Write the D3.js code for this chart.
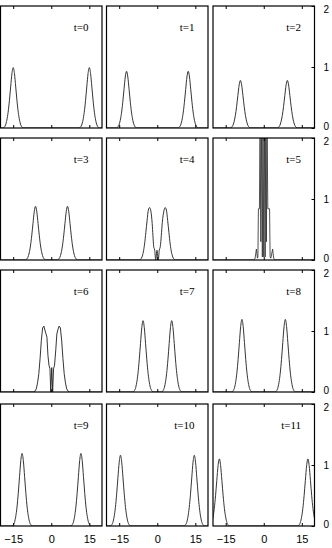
<!DOCTYPE html>
<html><head><meta charset="utf-8">
<script src="https://cdn.jsdelivr.net/npm/d3@7"></script>
<style>html,body{margin:0;padding:0;background:#fff;}svg{display:block;}</style>
</head><body>
<script>
// ---- data ----
const times = [0,1,2,3,4,5,6,7,8,9,10,11];
const xTicks = [-15, 0, 15];
const yTicks = [0, 1, 2];
// soliton centres and heights (null -> explicit curve below)
const leftCentre  = [-15.0, -12.1, -9.2, -6.2, null, null, null, -5.6, -8.6, -11.5, -14.5, -17.5];
const rightCentre = [ 15.0,  12.2,  9.3,  6.4, null, null, null,  5.7,  8.5,  11.7,  14.6,  17.4];
const peakHeight  = [ 0.99,  0.93, 0.78, 0.88, null, null, null, 1.17, 1.19,  1.19,  1.16,  1.10];
// single-peak profile read from t=0 (offset from centre, relative height)
const profileOffset = [-4, -3.5, -3, -2.5, -2, -1.5, -1, -0.5, 0, 0.5, 1, 1.5, 2, 2.5, 3, 3.5, 4];
const profileHeight = [0, 0.015, 0.05, 0.13, 0.26, 0.45, 0.68, 0.9, 1, 0.9, 0.68, 0.45, 0.26, 0.13, 0.05, 0.015, 0];
// interaction panels, read point by point
const curveT4 = [[-20,0],[-7,0],[-6.5,0.015],[-6,0.05],[-5.5,0.13],[-5,0.26],[-4.5,0.45],[-4,0.65],[-3.5,0.82],[-3,0.86],[-2.5,0.8],[-2,0.6],[-1.7,0.4],[-1.4,0.22],[-1.0,0.16],[-0.6,0.0],[-0.1,0.16],[0.4,0.0],[0.8,0.16],[1.2,0.22],[1.6,0.4],[2.0,0.62],[2.6,0.8],[3.1,0.86],[3.6,0.82],[4.1,0.65],[4.6,0.45],[5.1,0.26],[5.6,0.13],[6.1,0.05],[6.6,0.015],[7.1,0],[20,0]];
const curveT5 = [[-20,0],[-3.9,0],[-3.4,0.03],[-2.9,0.18],[-2.5,0.03],[-2.3,0.05],[-2.1,0.84],[-1.7,0.84],[-1.45,2.3],[-1.15,0.3],[-0.85,2.3],[-0.55,0.05],[-0.3,2.3],[0.0,0.05],[0.3,2.3],[0.55,0.05],[0.8,2.3],[1.05,0.3],[1.3,2.3],[1.6,0.84],[2.3,0.84],[2.5,0.05],[2.8,0.03],[3.5,0.18],[3.9,0.03],[4.5,0],[20,0]];
const curveT6 = [[-20,0],[-6.9,0],[-6.4,0.015],[-5.9,0.05],[-5.4,0.15],[-4.9,0.3],[-4.4,0.55],[-3.9,0.85],[-3.4,1.05],[-2.9,1.08],[-2.4,1.0],[-1.7,0.9],[-1.3,0.6],[-0.9,0.44],[-0.5,0.38],[-0.2,0.0],[0.2,0.4],[0.55,0.0],[0.9,0.38],[1.3,0.44],[1.8,0.7],[2.2,0.95],[2.6,1.02],[3.1,1.08],[3.6,1.05],[4.1,0.85],[4.6,0.55],[5.1,0.3],[5.6,0.15],[6.1,0.05],[6.6,0.015],[7.1,0],[20,0]];
const explicitCurves = {4: curveT4, 5: curveT5, 6: curveT6};

// ---- layout ----
const W = 332, H = 548;
const colLeft = [0.5, 106.5, 213];
const rowTop = [6, 138, 270, 404];
const pw = 101.5, ph = 122;

const svg = d3.select("body").append("svg").attr("width", W).attr("height", H);
const x = d3.scaleLinear().domain([-20, 20]).range([0, pw]);
const y = d3.scaleLinear().domain([0, 2]).range([ph, 0]);

function peakPoints(c, h) {
  return profileOffset.map((o, i) => [c + o, h * profileHeight[i]]);
}
function curveFor(t) {
  if (explicitCurves[t]) return explicitCurves[t];
  const pts = [[-25, 0]];
  peakPoints(leftCentre[t], peakHeight[t]).forEach(p => pts.push(p));
  peakPoints(rightCentre[t], peakHeight[t]).forEach(p => pts.push(p));
  pts.push([25, 0]);
  return pts;
}

const smoothLine = d3.line().x(d => x(d[0])).y(d => y(d[1])).curve(d3.curveMonotoneX);
const sharpLine = d3.line().x(d => x(d[0])).y(d => y(d[1])).curve(d3.curveLinear);

times.forEach((t, i) => {
  const col = i % 3, row = Math.floor(i / 3);
  const g = svg.append("g").attr("transform", `translate(${colLeft[col]},${rowTop[row]})`);
  g.append("clipPath").attr("id", "clip" + t).append("rect").attr("width", pw).attr("height", ph);
  const sharp = (t === 5 || t === 6);
  g.append("path")
    .attr("d", (sharp ? sharpLine : smoothLine)(curveFor(t)))
    .attr("clip-path", `url(#clip${t})`)
    .attr("fill", "none")
    .attr("stroke", t === 5 ? "#333" : "#2a2a2a")
    .attr("stroke-width", t === 5 ? 0.85 : 0.95)
    .attr("stroke-linejoin", "round");
  // x ticks (inward) at top and bottom
  const xb = d3.axisBottom(x).tickValues(xTicks).tickSize(-3).tickFormat(row === 3 ? d3.format("d") : "");
  const xa = g.append("g").attr("transform", `translate(0,${ph})`).call(xb);
  const xt = d3.axisTop(x).tickValues(xTicks).tickSize(-3).tickFormat("");
  const xta = g.append("g").call(xt);
  [xa, xta].forEach(a => { a.select(".domain").remove(); a.selectAll("line").attr("stroke", "#000"); });
  xa.selectAll("text").attr("dy", null).attr("y", 17)
    .attr("font-family", "Liberation Sans, Arial, sans-serif").attr("font-size", 11).attr("fill", "#000");
  // y axis on right of last column
  if (col === 2) {
    const ya = g.append("g").attr("transform", `translate(${pw},0)`)
      .call(d3.axisRight(y).tickValues(yTicks).tickSize(-3).tickFormat(d3.format("d")));
    ya.select(".domain").remove();
    ya.selectAll("line").attr("stroke", "#000");
    ya.selectAll("text").attr("x", 9).attr("font-family", "Liberation Sans, Arial, sans-serif")
      .attr("font-size", 10).attr("fill", "#000")
      .attr("dy", d => d === 0 ? "0.1em" : d === 2 ? "0.6em" : "0.32em");
  }
  // frame
  g.append("rect").attr("width", pw).attr("height", ph).attr("fill", "none")
    .attr("stroke", "#000").attr("stroke-width", 1.2);
  // label
  g.append("text").attr("x", 88).attr("y", 25).attr("text-anchor", "end")
    .attr("font-family", "Liberation Serif, Times New Roman, serif").attr("font-size", 11)
    .text("t=" + t);
});
</script>
</body></html>
